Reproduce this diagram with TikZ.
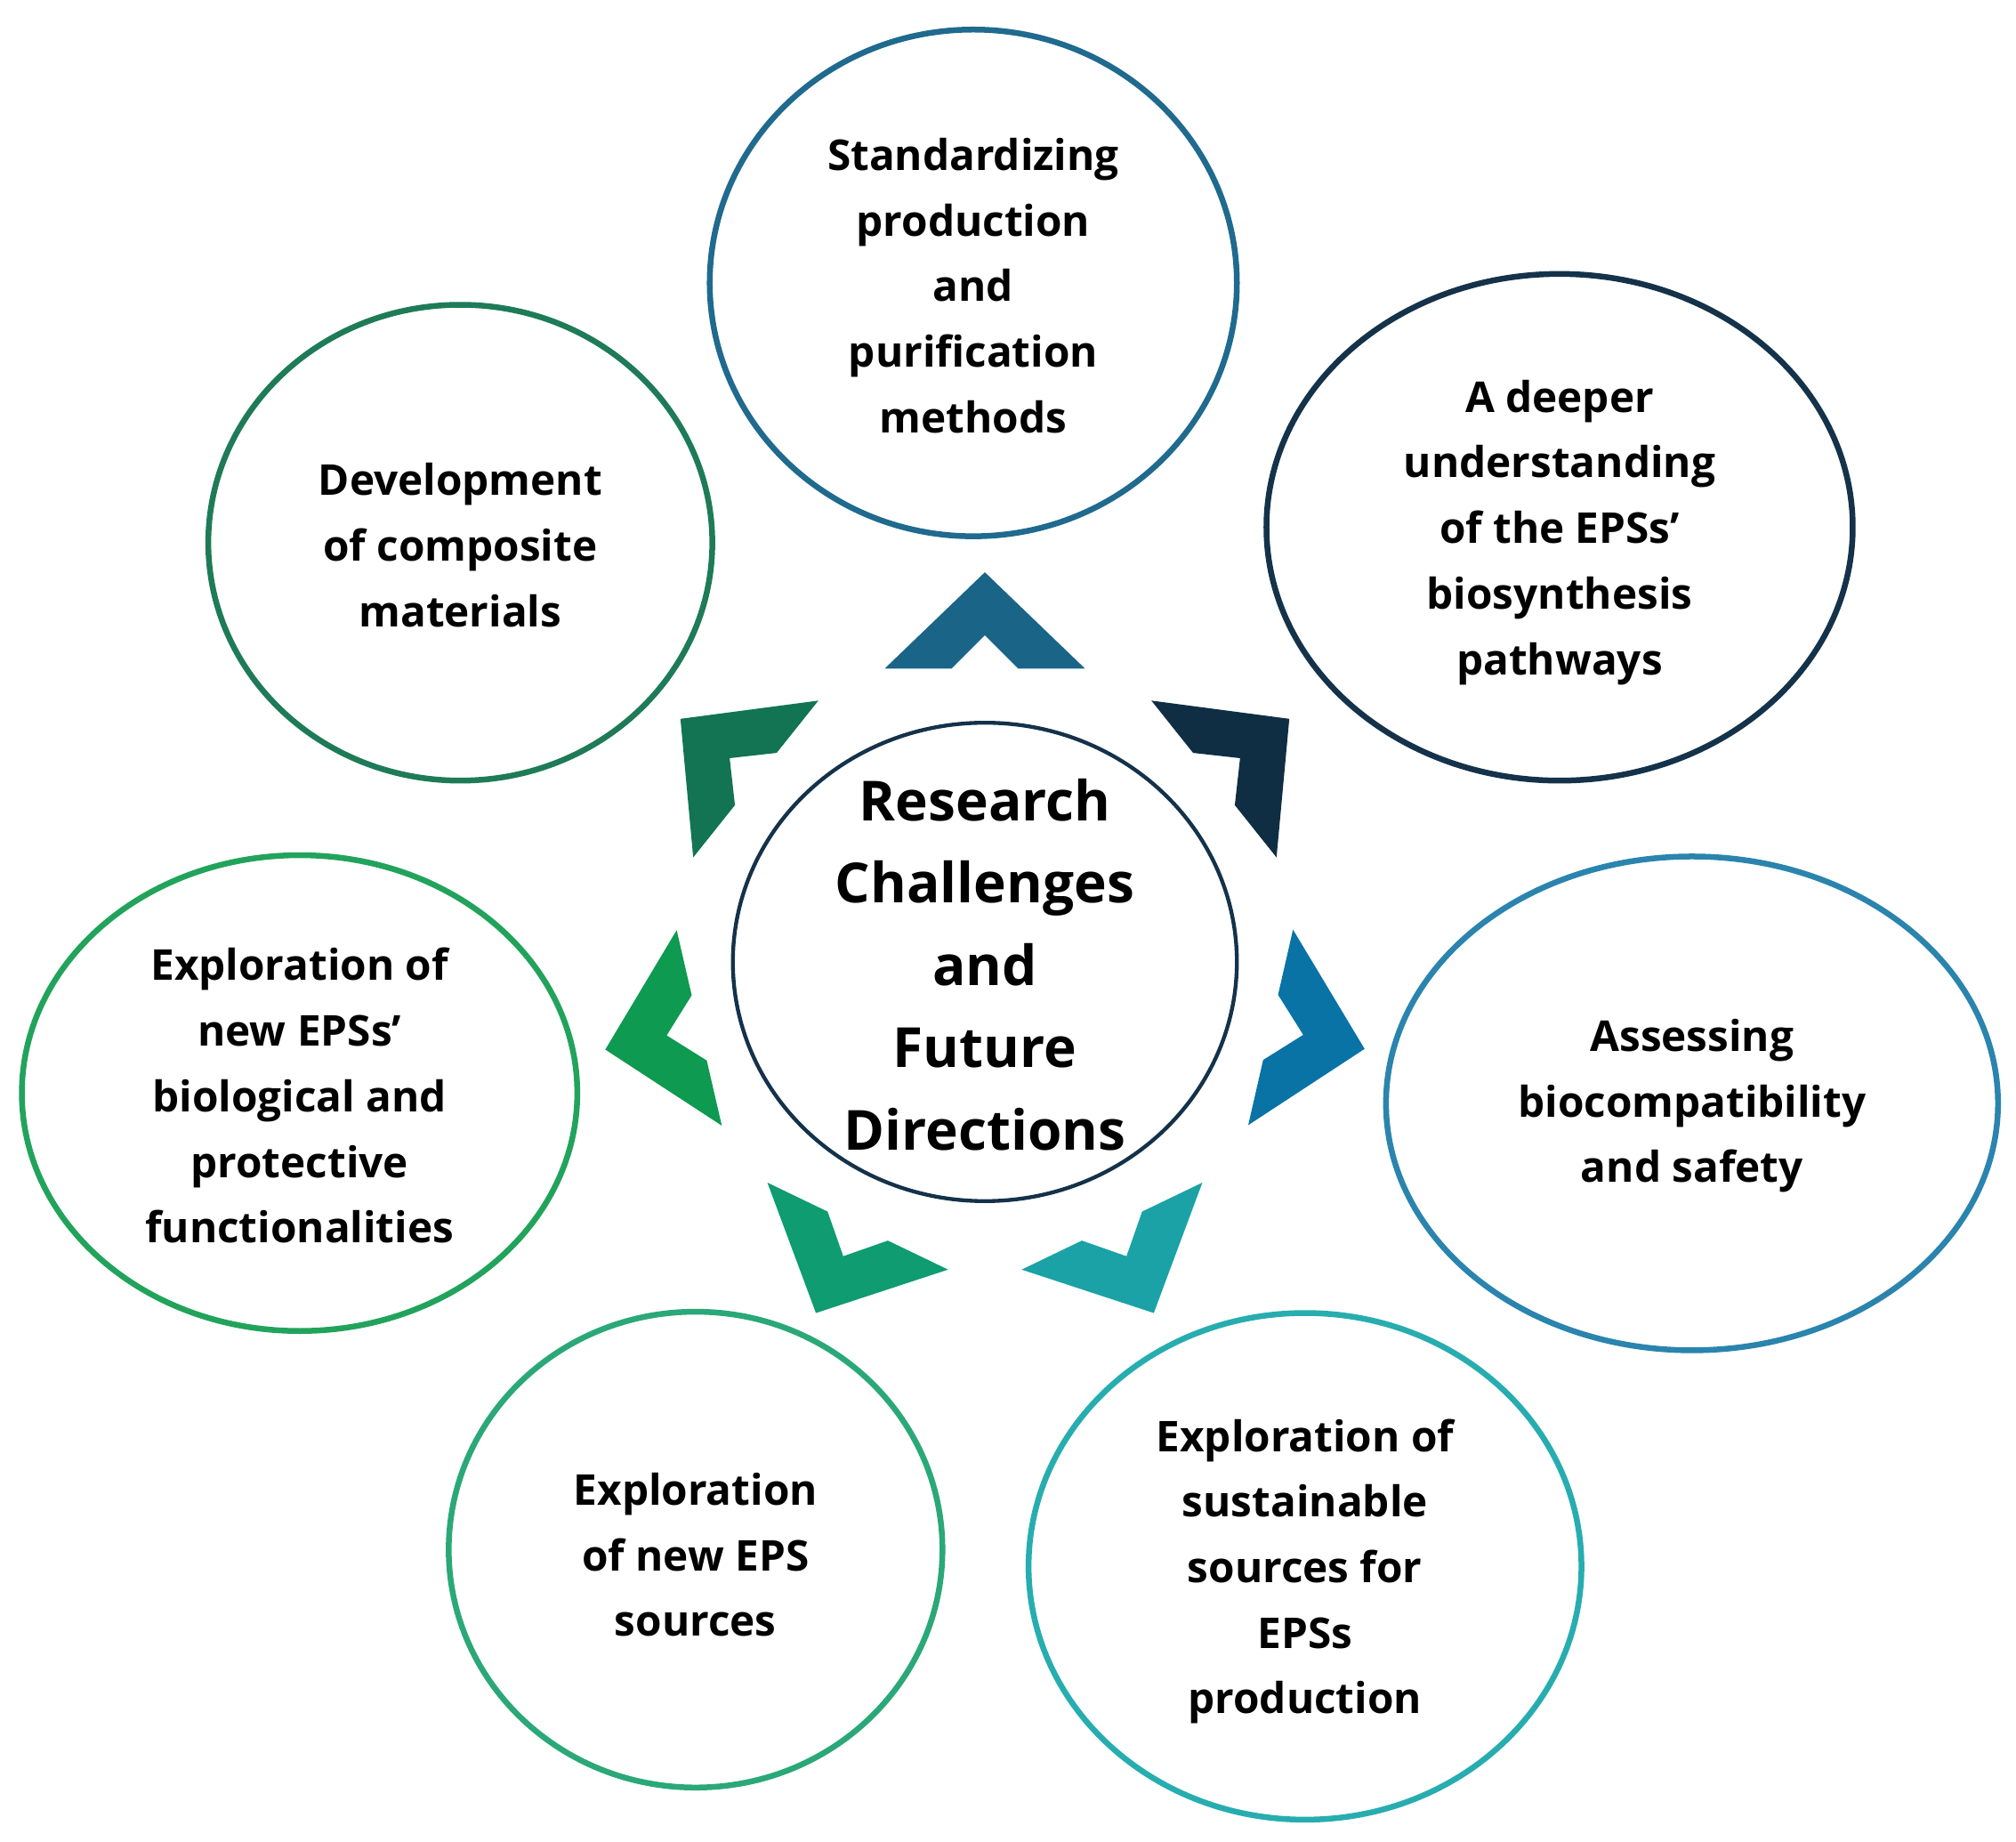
\documentclass[tikz,border=0pt]{standalone}
\usepackage{fontspec}
\setmainfont{Open Sans}
\begin{document}
\begin{tikzpicture}[x=1pt,y=-1pt,
  el/.style={draw=#1,line width=4.5pt},
  txt/.style={font=\fontsize{33}{51}\selectfont\bfseries,align=center},
  chev/.style={fill=#1,draw=none}]
\useasboundingbox (0,0) rectangle (1568,1432);
\definecolor{cA}{HTML}{1F6A8E}\definecolor{cB}{HTML}{14324A}
\definecolor{cC}{HTML}{1E7B57}\definecolor{cD}{HTML}{22A35C}
\definecolor{cE}{HTML}{2A84AE}\definecolor{cF}{HTML}{2BA878}
\definecolor{cG}{HTML}{27ADB0}\definecolor{cH}{HTML}{14324A}
\draw[el=cA] (757,220) ellipse [x radius=205,y radius=197];
\node[txt] (a) at (757,222) {Standardizing\\production\\and\\purification\\methods};
\draw[el=cB] (1213,410) ellipse [x radius=228,y radius=197];
\node[txt] (b) at (1213,414) {A deeper\\understanding\\of the EPSs’\\biosynthesis\\pathways};
\draw[el=cC] (358,422) ellipse [x radius=196,y radius=185];
\node[txt] (c) at (358,424) {Development\\of composite\\materials};
\draw[el=cD] (233,850) ellipse [x radius=216,y radius=185];
\node[txt] (d) at (233,852) {Exploration of\\new EPSs'\\biological and\\protective\\functionalities};
\draw[el=cE] (1316,858) ellipse [x radius=238,y radius=192];
\node[txt] (e) at (1316,860) {Assessing\\biocompatibility\\and safety};
\draw[el=cF] (541,1205) ellipse [x radius=192,y radius=185];
\node[txt] (f) at (541,1209) {Exploration\\of new EPS\\sources};
\draw[el=cG] (1015,1218) ellipse [x radius=215,y radius=197];
\node[txt] (g) at (1015,1222) {Exploration of\\sustainable\\sources for\\EPSs\\production};
\draw[draw=cH,line width=3pt] (766,748) ellipse [x radius=196,y radius=186];
\node[font=\fontsize{43}{64}\selectfont\bfseries,align=center] (h) at (766,750) {Research\\Challenges\\and\\Future\\Directions};
\foreach \ang/\col in {90/1A6488,38.6/0F2E44,-12.9/0A73A6,-64.3/1AA2A6,-115.7/0E9C70,-167/0E9A50,141.4/127452}{
  \definecolor{cc}{HTML}{\col}
  \begin{scope}[shift={({766+303*cos(\ang)},{748-303*sin(\ang)})},rotate=\ang]
  \fill[cc] (0,0) -- (-75,78) -- (-75,26) -- (-49,0) -- (-75,-26) -- (-75,-78) -- cycle;
  \end{scope}}
\end{tikzpicture}
\end{document}
